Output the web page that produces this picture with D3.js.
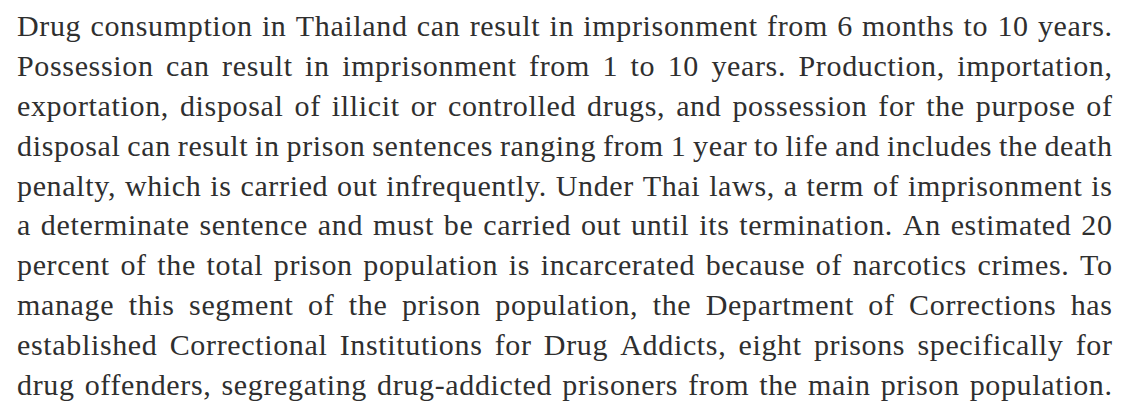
<!DOCTYPE html>
<html lang="en">

<head>
    <meta charset="UTF-8">
    <title>Drug laws in Thailand</title>
    <script src="https://d3js.org/d3.v7.min.js"></script>
    <style>
        html, body {
            margin: 0;
            padding: 0;
            background: #fff;
        }
        svg text {
            font-family: "Liberation Serif", "DejaVu Serif", serif;
            fill: #2f2f2f;
        }
    </style>
</head>

<body>
    <svg width="1134" height="405"></svg>

    <script>
        // the paragraph, one entry per printed line (fully justified)
        const lines = [
            "Drug consumption in Thailand can result in imprisonment from 6 months to 10 years.",
            "Possession can result in imprisonment from 1 to 10 years. Production, importation,",
            "exportation, disposal of illicit or controlled drugs, and possession for the purpose of",
            "disposal can result in prison sentences ranging from 1 year to life and includes the death",
            "penalty, which is carried out infrequently. Under Thai laws, a term of imprisonment is",
            "a determinate sentence and must be carried out until its termination. An estimated 20",
            "percent of the total prison population is incarcerated because of narcotics crimes. To",
            "manage this segment of the prison population, the Department of Corrections has",
            "established Correctional Institutions for Drug Addicts, eight prisons specifically for",
            "drug offenders, segregating drug-addicted prisoners from the main prison population."
        ];

        (function () {
            const svg = d3.select('svg');
            const left = 17, right = 1112;

            const y = d3.scaleLinear()
                .domain([0, lines.length - 1])
                .range([36, 395]);

            // measure words without tracking first
            const fontSize = 30;
            const probe = svg.append('text').attr('font-size', fontSize);
            const measure = s => probe.text(s).node().getComputedTextLength();
            const space = measure('a a') - measure('aa');

            // the source face is wider than ours: open up the tracking until the
            // tightest line fills the measure with ordinary word spaces
            let tracking = d3.min(lines, l => {
                const ws = l.split(' ');
                const natural = d3.sum(ws, measure) + (ws.length - 1) * space * 0.9;
                const chars = d3.sum(ws, w => w.length);
                return (right - left - natural) / chars;
            });
            tracking = Math.max(0, Math.min(1.2, tracking));
            const wordWidth = w => measure(w) + tracking * (w.length - 1);

            // lay out each word so the line runs from margin to margin
            const words = [];
            lines.forEach((l, i) => {
                const ws = l.split(' ');
                const widths = ws.map(wordWidth);
                const gap = (right - left - d3.sum(widths)) / (ws.length - 1);
                let x = left;
                ws.forEach((w, j) => {
                    words.push({ text: w, x: x, line: i });
                    x += widths[j] + gap;
                });
            });
            probe.remove();

            svg.append('g')
                .selectAll('text')
                .data(words)
                .enter()
                .append('text')
                .attr('x', d => d.x)
                .attr('y', d => y(d.line))
                .attr('font-size', fontSize)
                .attr('letter-spacing', tracking)
                .text(d => d.text);
        })();
    </script>
</body>

</html>
